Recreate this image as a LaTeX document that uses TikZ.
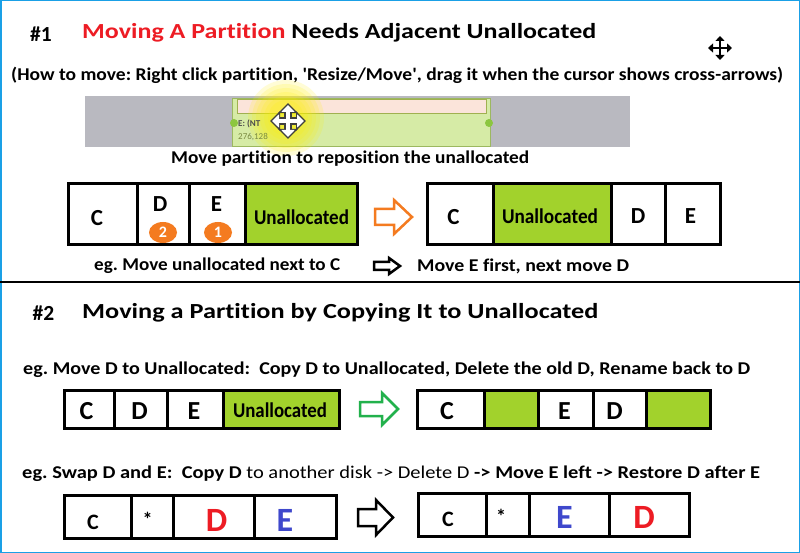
\documentclass[tikz,border=0pt]{standalone}
\usepackage{graphicx}
\usepackage{fontspec}
\setmainfont{Carlito}[Ligatures=NoCommon]
\newfontfamily\plainquote{Carlito}[Ligatures=NoCommon]
\usetikzlibrary{arrows.meta,shapes.geometric}
\frenchspacing
\newcommand\fitw[2]{\resizebox{#1}{\height}{#2}}
\definecolor{ured}{HTML}{ED1C24}
\definecolor{ugreen}{HTML}{A2D22C}
\definecolor{uorange}{HTML}{F47B20}
\definecolor{ublue}{HTML}{3F48CC}
\definecolor{agreen}{HTML}{22B14C}
\definecolor{frameblue}{HTML}{1AA0E6}
\definecolor{shotgray}{HTML}{B9B9C0}
\definecolor{shotgreen}{HTML}{D6EBA6}
\definecolor{shotedge}{HTML}{9CB860}
\definecolor{shotpink}{HTML}{FBE4DA}
\definecolor{shotbar}{HTML}{A0B050}
\definecolor{handle}{HTML}{8CC63F}
\definecolor{sizetext}{HTML}{7A8A40}
\tikzset{
  cell/.style={draw=black, line width=3pt, inner sep=0pt, anchor=west},
  cellA/.style={cell, minimum height=61pt},
  cellB/.style={cell, minimum height=38pt},
  cellC/.style={cell, minimum height=43pt},
  letterA/.style={font=\bfseries\fontsize{23}{23}\selectfont, inner sep=0pt},
  letterB/.style={font=\bfseries\fontsize{26}{26}\selectfont, inner sep=0pt},
  bigletter/.style={font=\bfseries\fontsize{34}{34}\selectfont, inner sep=0pt},
  star/.style={font=\bfseries\fontsize{20}{20}\selectfont, inner sep=0pt},
  uatext/.style={font=\bfseries\fontsize{21}{21}\selectfont, inner sep=0pt},
  heading/.style={font=\bfseries\fontsize{21.5}{21.5}\selectfont, inner sep=0pt},
  body/.style={font=\bfseries\fontsize{18}{18}\selectfont, inner sep=0pt, anchor=west},
  numdot/.style={ellipse, fill=uorange, text=white, minimum width=28pt, minimum height=21pt, inner sep=0pt, font=\bfseries\fontsize{16}{16}\selectfont},
  blockarrow/.style={line width=2.5pt, line join=miter, fill=white},
}
\begin{document}
\begin{tikzpicture}[x=1pt,y=-1pt]
\useasboundingbox (0,0) rectangle (800,553);
\fill[white] (0,0) rectangle (800,553);
\draw[frameblue, line width=1.5pt] (0.75,0.75) rectangle (799.25,552.25);

% ---------- section 1 ----------
\node[heading] (n1) at (41,34) {\#1};
\node[heading, anchor=west] (t1) at (82,33) {\fitw{514pt}{{\color{ured}Moving A Partition} Needs Adjacent Unallocated}};
\node[body] (sub1) at (11,75) {\fitw{772pt}{\plainquote\bfseries (How to move: Right click partition, 'Resize/Move', drag it when the cursor shows cross-arrows)}};

% four-way cursor
\coordinate (cur) at (720,48);
\foreach \dx/\dy in {0/-12,0/12,-12/0,12/0}
  \draw[line width=2.6pt, -{Triangle[width=9pt,length=5pt]}] (cur) -- ++(\dx,\dy);

% screenshot
\fill[shotgray] (85,96) rectangle (630,147);
\fill[shotgreen] (232,98) rectangle (490,146);
\draw[shotedge, line width=0.8pt] (232,98) rectangle (490,146);
\fill[shotpink] (237,100) rectangle (486,114);
\draw[shotbar, line width=1pt] (237,100) rectangle (486,114);
\foreach \r in {38,34,30,26,22,18}
  \fill[yellow, opacity=0.16] (286,118) circle (\r);
\fill[handle] (234,123) circle (4);
\fill[handle] (489,123) circle (4);
\node[font=\bfseries\fontsize{9}{9}\selectfont, text=black!70, anchor=west, inner sep=0pt] (en) at (238,124) {E: (NT};
\node[font=\fontsize{9}{9}\selectfont, text=sizetext, anchor=west, inner sep=0pt] (sz) at (238,137) {276,128};
\coordinate (mc) at (288,121);
\foreach \dx/\dy in {0/-18,0/18,-18/0,18/0}
  \draw[line width=7.5pt, -{Triangle[width=19pt,length=10pt]}, black!75] (mc) -- ++(\dx,\dy);
\foreach \dx/\dy in {0/-16,0/16,-16/0,16/0}
  \draw[line width=4pt, -{Triangle[width=13pt,length=7pt]}, white] (mc) -- ++(\dx,\dy);

\node[body] (cap1) at (171,159) {\fitw{358pt}{Move partition to reposition the unallocated}};

% row 1 left
\node[cellA, minimum width=69pt] (a1) at (67,214.5) {};
\node[cellA, minimum width=52pt] (a2) at (136,214.5) {};
\node[cellA, minimum width=56pt] (a3) at (188,214.5) {};
\node[cellA, minimum width=112pt, fill=ugreen] (a4) at (244,214.5) {};
\node[letterA] (la1) at (97,218) {C};
\node[letterA] (la2) at (160,204.5) {D};
\node[letterA] (la3) at (216.5,204.5) {E};
\node[uatext] (la4) at (301.5,217) {\fitw{95pt}{Unallocated}};
\node[numdot] (d2) at (163,232.5) {2};
\node[numdot] (d1) at (218,232.5) {1};

% orange arrow
\draw[blockarrow, draw=uorange] (375,209) -- (394,209) -- (394,200) -- (412,217) -- (394,234) -- (394,225) -- (375,225) -- cycle;

% row 1 right
\node[cellA, minimum width=66pt] (b1) at (426,214.5) {};
\node[cellA, minimum width=118pt, fill=ugreen] (b2) at (492,214.5) {};
\node[cellA, minimum width=54pt] (b3) at (610,214.5) {};
\node[cellA, minimum width=55pt] (b4) at (664,214.5) {};
\node[letterA] (lb1) at (453.5,217) {C};
\node[uatext] (lb2) at (550,216) {\fitw{96pt}{Unallocated}};
\node[letterA] (lb3) at (638,216) {D};
\node[letterA] (lb4) at (690.5,216) {E};

\node[body] (e1) at (94,266) {\fitw{246pt}{eg. Move unallocated next to C}};
\draw[blockarrow, draw=black] (374,262) -- (389,262) -- (389,258) -- (400,266) -- (389,274) -- (389,270) -- (374,270) -- cycle;
\node[body] (e2) at (417,266) {\fitw{212pt}{Move E first, next move D}};

% separator
\draw[black, line width=1.3pt] (0,282) -- (800,282);

% ---------- section 2 ----------
\node[heading] (n2) at (43.5,313) {\#2};
\node[heading, anchor=west] (t2) at (82,313) {\fitw{516pt}{Moving a Partition by Copying It to Unallocated}};
\node[body] (e3) at (23,370) {\fitw{727pt}{eg. Move D to Unallocated:\ \ Copy D to Unallocated, Delete the old D, Rename back to D}};

% row 2 left
\node[cellB, minimum width=50pt] (c1) at (63,409) {};
\node[cellB, minimum width=53pt] (c2) at (113,409) {};
\node[cellB, minimum width=56pt] (c3) at (166,409) {};
\node[cellB, minimum width=116pt, fill=ugreen] (c4) at (222,409) {};
\node[letterB] (lc1) at (86.5,411.5) {C};
\node[letterB] (lc2) at (139.5,411.5) {D};
\node[letterB] (lc3) at (194,411) {E};
\node[uatext] (lc4) at (280,410) {\fitw{94pt}{Unallocated}};

\draw[blockarrow, draw=agreen] (360,402) -- (382,402) -- (382,393) -- (398,409) -- (382,425) -- (382,416) -- (360,416) -- cycle;

% row 2 right
\node[cellB, minimum width=67pt] (g1) at (416,409) {};
\node[cellB, minimum width=54pt, fill=ugreen] (g2) at (483,409) {};
\node[cellB, minimum width=54.5pt] (g3) at (537,409) {};
\node[cellB, minimum width=53pt] (g4) at (591.5,409) {};
\node[cellB, minimum width=64.5pt, fill=ugreen] (g5) at (644.5,409) {};
\node[letterB] (lg1) at (447,411.5) {C};
\node[letterB] (lg3) at (564.5,411) {E};
\node[letterB] (lg4) at (614.5,411) {D};

% row 3
\node[body] (e4) at (22,474) {\fitw{738pt}{eg. Swap D and E:\ \ Copy D\mdseries{} to another disk -> Delete D\bfseries{} -> Move E left -> Restore D after E}};

\node[cellC, minimum width=67pt] (h1) at (63,516.5) {};
\node[cellC, minimum width=42pt] (h2) at (130,516.5) {};
\node[cellC, minimum width=81pt] (h3) at (172,516.5) {};
\node[cellC, minimum width=82pt] (h4) at (253,516.5) {};
\node[letterA, font=\bfseries\fontsize{22}{22}\selectfont] (lh1) at (93,522.5) {C};
\node[star] (lh2) at (147.5,519) {*};
\node[bigletter, text=ured] (lh3) at (216.5,520) {D};
\node[bigletter, text=ublue] (lh4) at (285,520.5) {E};

\draw[blockarrow, draw=black] (358,509) -- (376,509) -- (376,500) -- (393,517.5) -- (376,535) -- (376,526) -- (358,526) -- cycle;

\node[cellC, minimum width=68pt] (k1) at (417,514.5) {};
\node[cellC, minimum width=43pt] (k2) at (485,514.5) {};
\node[cellC, minimum width=80pt] (k3) at (528,514.5) {};
\node[cellC, minimum width=80pt] (k4) at (608,514.5) {};
\node[letterA, font=\bfseries\fontsize{22}{22}\selectfont] (lk1) at (448,519.5) {C};
\node[star] (lk2) at (501,516) {*};
\node[bigletter, text=ublue] (lk3) at (564.5,517.5) {E};
\node[bigletter, text=ured] (lk4) at (644,517) {D};
\end{tikzpicture}
\end{document}
